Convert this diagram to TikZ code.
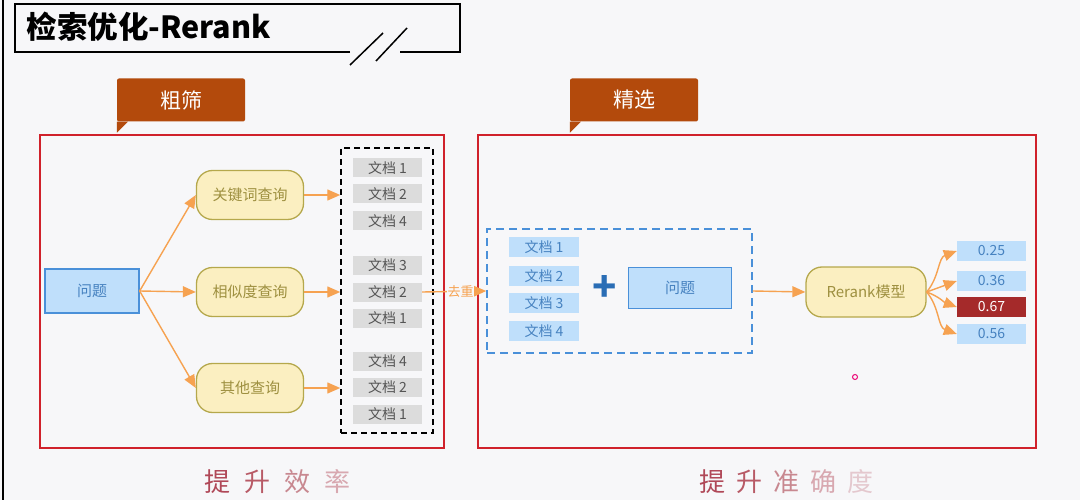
\documentclass[tikz,border=0pt]{standalone}
\usepackage{fontspec}
\setmainfont{Noto Sans CJK SC}
\usetikzlibrary{arrows.meta}
\definecolor{bgc}{HTML}{F7F7F9}
\definecolor{boxred}{HTML}{D0212B}
\definecolor{tagc}{HTML}{B34A0C}
\definecolor{arrc}{HTML}{F6A251}
\definecolor{pillf}{HTML}{FBEFC1}
\definecolor{pilld}{HTML}{B5A84C}
\definecolor{pillt}{HTML}{9E9040}
\definecolor{bluef}{HTML}{BFDFFB}
\definecolor{blued}{HTML}{4A90D9}
\definecolor{bluet}{HTML}{4682C0}
\definecolor{plusc}{HTML}{2A6DB5}
\definecolor{docf}{HTML}{DCDCDC}
\definecolor{doct}{HTML}{555555}
\definecolor{hit}{HTML}{A52A2A}
\definecolor{ta}{HTML}{B04858}
\definecolor{tb}{HTML}{B85A66}
\definecolor{tc}{HTML}{C88890}
\definecolor{td}{HTML}{D8A8B0}
\definecolor{te}{HTML}{E4C8CE}
\tikzset{
  fs/.style={font=\fontsize{#1}{#1}\selectfont},
  bfs/.style={font=\fontsize{#1}{#1}\selectfont\bfseries},
  pill/.style={draw=pilld,fill=pillf,text=pillt,line width=1.3pt,rounded corners=16pt,minimum width=107pt,minimum height=49pt,fs=15},
  qbox/.style={draw=blued,fill=bluef,text=bluet,line width=1.3pt,minimum width=94pt,minimum height=44pt,fs=15},
  gdoc/.style={fill=docf,text=doct,minimum width=69pt,minimum height=19pt,inner sep=0pt,fs=14},
  bdoc/.style={fill=bluef,text=bluet,minimum width=70pt,minimum height=20pt,inner sep=0pt,fs=14},
  tag/.style={fill=tagc,text=white,rounded corners=2pt,minimum width=128pt,minimum height=43pt,fs=21},
  flow/.style={draw=arrc,line width=1.4pt,-{Triangle[length=13pt,width=11pt]}},
}
\begin{document}
\begin{tikzpicture}[x=1pt,y=-1pt]
\fill[bgc] (0,0) rectangle (1080,500);
\useasboundingbox (0,0) rectangle (1080,500);
\draw[line width=2pt] (3,0) -- (3,500);
\draw[line width=1.5pt] (350,52) -- (15,52) -- (15,4) -- (460,4) -- (460,52) -- (400,52);
\draw[line width=1.5pt] (350,65) -- (383,33) (376,61) -- (407,28);
\node[anchor=west,bfs=30.5] (title) at (23,27) {检索优化-Rerank};

\draw[boxred,line width=1.5pt] (40,135) rectangle (444,448);
\draw[boxred,line width=1.5pt] (478,135) rectangle (1036,448);
\node[tag] (t1) at (181,100) {粗筛};
\fill[tagc] (t1.south west) -- ++(0,11) -- ++(11,-11) -- cycle;
\node[tag] (t2) at (634,100) {精选};
\fill[tagc] (t2.south west) -- ++(0,11) -- ++(11,-11) -- cycle;

\node[qbox] (q1) at (92,291) {问题};
\node[pill] (k1) at (250,195) {关键词查询};
\node[pill] (k2) at (250,292) {相似度查询};
\node[pill] (k3) at (250,388) {其他查询};
\node[draw,dashed,line width=1.5pt,dash pattern=on 6pt off 4pt,minimum width=92pt,minimum height=285pt] (pool) at (387,290.5) {};
\node[gdoc] (d11) at (387.5,168) {文档 1};
\node[gdoc] (d12) at (387.5,194) {文档 2};
\node[gdoc] (d13) at (387.5,221) {文档 4};
\node[gdoc] (d21) at (387.5,265) {文档 3};
\node[gdoc] (d22) at (387.5,292) {文档 2};
\node[gdoc] (d23) at (387.5,318) {文档 1};
\node[gdoc] (d31) at (387.5,361) {文档 4};
\node[gdoc] (d32) at (387.5,387) {文档 2};
\node[gdoc] (d33) at (387.5,414) {文档 1};
\draw[flow] (q1.east) -- (k1.west);
\draw[flow] (q1.east) -- (k2.west);
\draw[flow] (q1.east) -- (k3.west);
\draw[flow] (k1.east) -- (k1.east -| pool.west);
\draw[flow] (k2.east) -- (k2.east -| pool.west);
\draw[flow] (k3.east) -- (k3.east -| pool.west);

\node[draw=blued,dashed,line width=1.5pt,dash pattern=on 8pt off 5pt,minimum width=265pt,minimum height=124pt] (cand) at (619.5,291) {};
\node[bdoc] (b1) at (544,247) {文档 1};
\node[bdoc] (b2) at (544,276) {文档 2};
\node[bdoc] (b3) at (544,303) {文档 3};
\node[bdoc] (b4) at (544,331) {文档 4};
\node[text=plusc,bfs=40] (plus) at (605,288) {+};
\node[qbox,minimum width=103pt,minimum height=41pt] (q2) at (680,288) {问题};
\draw[flow] (d22.east) -- (cand.west) node[pos=0.6,fill=bgc,inner sep=0.5pt,text=arrc,fs=13] (dd) {去重};

\node[pill,minimum width=120pt,minimum height=50pt] (rr) at (866,292) {Rerank模型};
\node[bdoc,minimum width=69pt] (s1) at (991.5,251) {0.25};
\node[bdoc,minimum width=69pt] (s2) at (991.5,281) {0.36};
\node[bdoc,minimum width=69pt,fill=hit,text=white] (s3) at (991.5,307) {0.67};
\node[bdoc,minimum width=69pt] (s4) at (991.5,334) {0.56};
\draw[flow] (cand.east) -- (rr.west);
\draw[flow] (rr.east) to[out=50,in=200] (s1.west);
\draw[flow] (rr.east) to[out=20,in=200] (s2.west);
\draw[flow] (rr.east) to[out=-20,in=160] (s3.west);
\draw[flow] (rr.east) to[out=-50,in=160] (s4.west);
\node[draw=magenta!80!red,line width=1pt,circle,inner sep=0pt,minimum size=5pt] (dot) at (855,377) {};

\node[fs=26] (e1) at (277,482) {\color{ta}提\hspace{14pt}\color{tb}升\hspace{14pt}\color{tc}效\hspace{14pt}\color{td}率};
\node[fs=26] (e2) at (786,482) {\color{ta}提\hspace{11pt}\color{tb}升\hspace{11pt}\color{tc}准\hspace{11pt}\color{td}确\hspace{11pt}\color{te}度};
\end{tikzpicture}
\end{document}
